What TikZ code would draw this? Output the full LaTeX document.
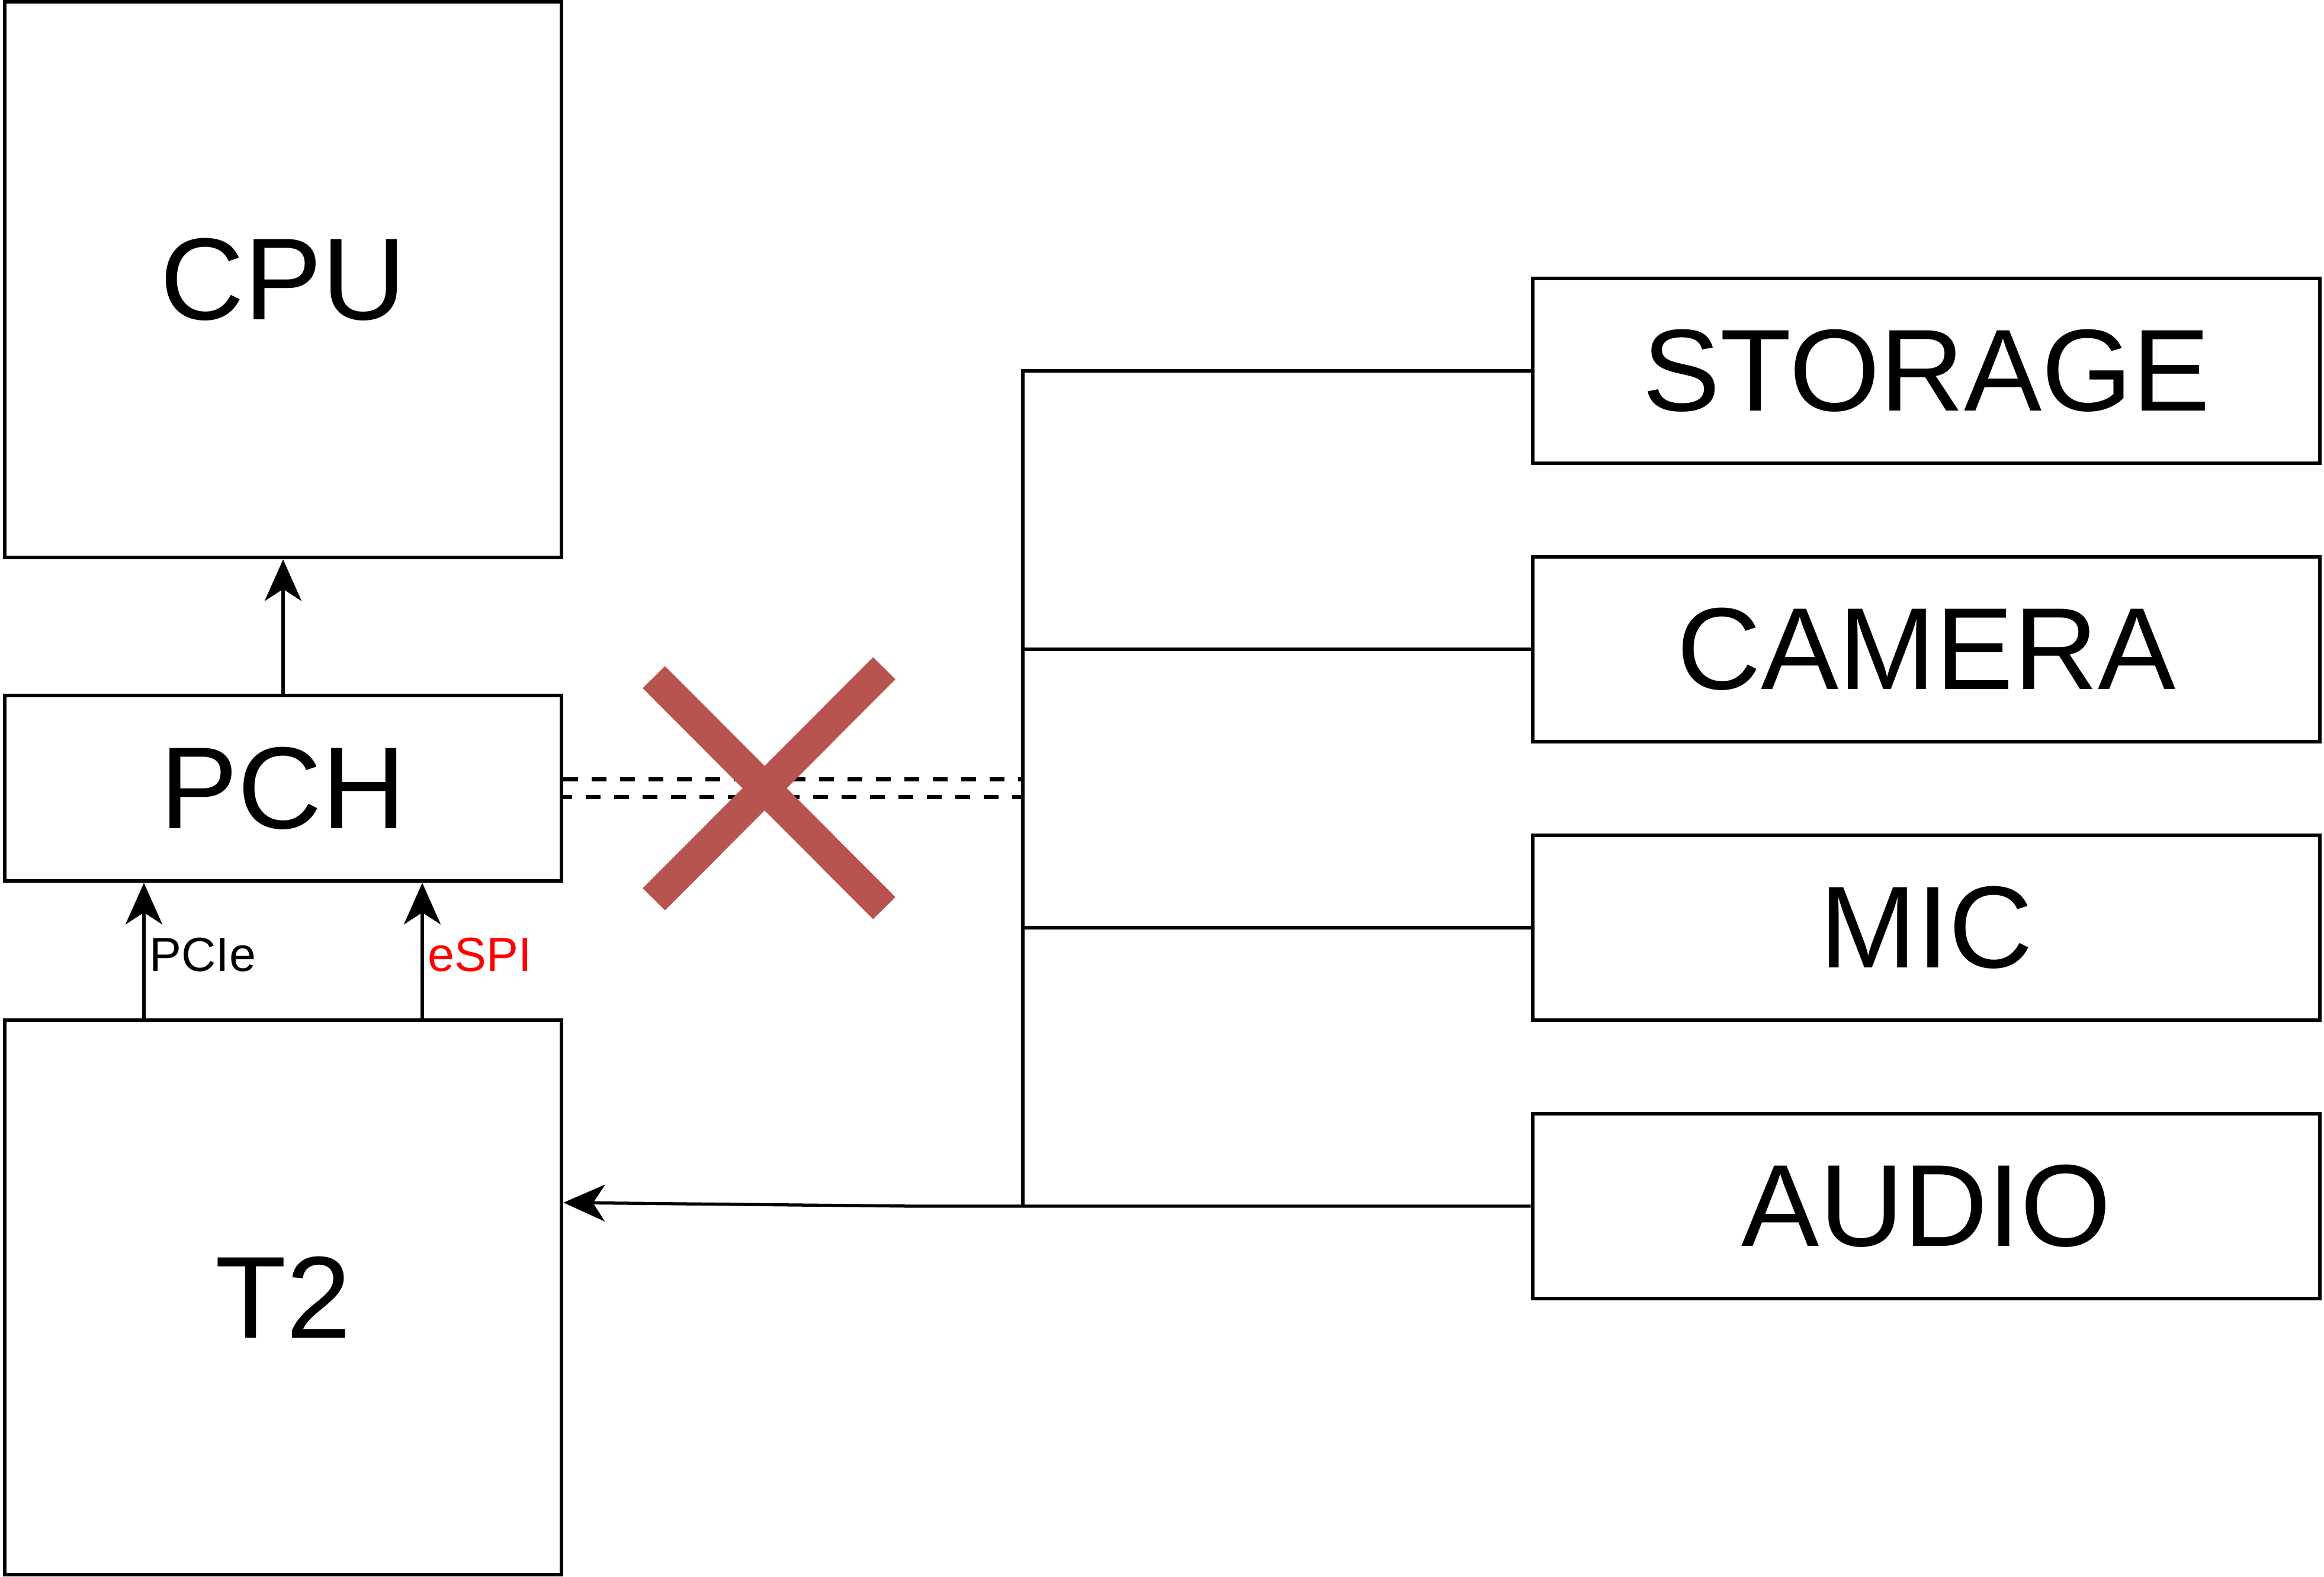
\documentclass[tikz,border=0pt]{standalone}
\usepackage{fontspec}
\setmainfont{Liberation Sans}
\usetikzlibrary{arrows.meta}
\definecolor{crossred}{RGB}{184,84,80}
\tikzset{
  block/.style={draw, line width=0.95pt, minimum width=4.7cm, font=\fontsize{28}{30}\selectfont},
  dev/.style={draw, line width=0.95pt, minimum width=6.645cm, minimum height=1.56cm, font=\fontsize{28}{30}\selectfont},
  wire/.style={line width=0.75pt},
  cutwire/.style={line width=1.1pt, dash pattern=on 0.125cm off 0.115cm},
  link/.style={line width=0.75pt, -{Stealth[length=0.35cm, width=0.31cm, inset=0.1cm]}},
  buslabel/.style={font=\fontsize{11.5}{13}\selectfont, inner sep=1pt}
}
\begin{document}
\begin{tikzpicture}
    \useasboundingbox (0,0) rectangle (19.62cm,-13.31cm);

    \node[block, minimum height=4.69cm] (cpu) at (2.39cm,-2.36cm) {CPU};
    \node[block, minimum height=1.565cm] (pch) at (2.39cm,-6.6525cm) {PCH};
    \node[block, minimum height=4.68cm] (t2) at (2.39cm,-10.95cm) {T2};

    \foreach \name/\txt [count=\i from 0] in {storage/STORAGE, camera/CAMERA, mic/MIC, audio/AUDIO} {
      \node[dev] (\name) at (16.2625cm,-3.13cm-\i*2.35cm) {\txt};
    }

    \coordinate (bustop) at (8.635cm,-3.13cm);
    \coordinate (busbot) at (8.635cm,-10.18cm);
    \coordinate (kink) at (7.7cm,-10.18cm);
    \coordinate (t2in) at ([yshift=0.8cm]t2.east);

    % bus
    \draw[wire] (storage.west) -- (bustop) -- (busbot);
    \draw[wire] (camera.west) -- (camera.west -| bustop);
    \draw[wire] (mic.west) -- (mic.west -| bustop);
    \draw[link] (audio.west) -- (busbot) -- (kink) -- (t2in);

    % links into the PCH
    \draw[link] (pch.north) -- (cpu.south);
    \draw[link] ([xshift=-1.175cm]t2.north) -- ([xshift=-1.175cm]pch.south)
      node[buslabel, right, pos=0.47] {PCIe};
    \draw[link] ([xshift=1.175cm]t2.north) -- ([xshift=1.175cm]pch.south)
      node[buslabel, right, pos=0.47, text=red] {eSPI};

    % old path, cut
    \draw[cutwire] ([yshift=0.075cm]pch.east) -- ([yshift=0.075cm]pch.east -| bustop);
    \draw[cutwire, dash phase=0.05cm] ([yshift=-0.075cm]pch.east) -- ([yshift=-0.075cm]pch.east -| bustop);
    \draw[crossred, line width=0.265cm] (5.52cm,-5.715cm) -- (7.465cm,-7.665cm);
    \draw[crossred, line width=0.265cm] (7.465cm,-5.64cm) -- (5.52cm,-7.59cm);
  \end{tikzpicture}
\end{document}
